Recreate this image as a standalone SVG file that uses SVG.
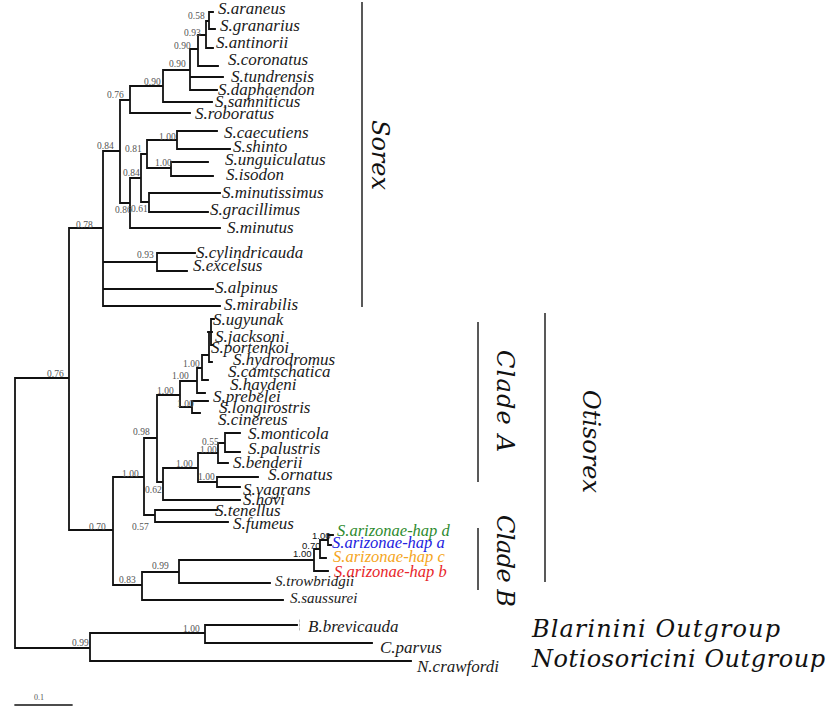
<svg xmlns="http://www.w3.org/2000/svg" width="835" height="707" viewBox="0 0 835 707">
<style>
.br{fill:none;stroke:#111;stroke-width:1.8;stroke-linecap:square}
.sp{font-family:"Liberation Serif","Times New Roman",serif;font-style:italic;font-size:17px;fill:#1a1a1a}
.sm{font-size:15px}
.bs{font-family:"Liberation Serif","Times New Roman",serif;font-size:9.5px;fill:#555}
.bk{font-family:"Liberation Sans",Arial,sans-serif;font-size:9.5px;fill:#111}
.grp{font-family:"DejaVu Serif",serif;font-style:italic;font-size:24px;fill:#111}
.bar{stroke:#222;stroke-width:1.5}
</style>
<rect width="835" height="707" fill="#fff"/>
<g id="connectors" class="br">
<path d="M15 378V648M15 378H69M15 648H90
M69 228V530M69 228H103M69 530H113
M103 151V306M103 151H120M103 262H157M103 289H213M103 306H220
M157 253V271M157 253H195M157 271H187
M120 100V203M120 100H130M120 203H130
M130 86V113M130 86H163M130 113H190
M163 70V102M163 70H190M163 102H212
M190 49V90M190 49H198M190 77H223M190 90H217
M198 35V66M198 35H206M198 66H218
M206 21V48M206 21H209M206 48H213
M209 12V29M209 12H213M209 29H215
M130 178V228M130 178H141M130 228H220
M141 154V202M141 154H147M141 202H149
M147 140V168M147 140H177M147 168H171
M177 131V149M177 131H217M177 149H230
M171 162V176M171 162H208M171 176H213
M149 193V212M149 193H220M149 212H208
M113 477V585M113 477H144M113 585H142
M144 438V515M144 438H157M144 515H155
M155 510V522M155 510H217M155 522H228
M157 395V482M157 395H180M157 482H163
M163 468V500M163 468H198M163 500H240
M198 453V482M198 453H218M198 482H217
M218 443V463M218 443H225M218 463H228
M225 433V452M225 433H240M225 452H240
M217 477V487M217 477H258M217 487H240
M180 381V407M180 381H197M180 407H192
M192 401V413M192 401H208M192 413H200
M197 368V393M197 368H202M197 393H205
M202 355V380M202 355H209M202 380H208
M209 332V362M209 362H212M208 332H212
M211 319V345M211 319H214M211 345H213
M142 572V600M142 572H179M142 600H283
M179 560V583M179 560H314M179 583H270
M314 549V571M314 549H320M314 571H328
M320 540V558M320 540H328M320 558H326
M328 535V545M328 535H333M328 545H331
M90 633V661M90 633H205M90 661H411
M205 625V643M205 625H297M205 643H372"/>
<path d="M299.5 620V630" style="stroke:#bbb;stroke-width:1;stroke-dasharray:2 2"/>
<path d="M15 705H72" style="stroke-width:1.3"/>
</g>
<g id="support-values">
<text class="bs" x="188" y="19">0.58</text>
<text class="bs" x="184" y="36">0.93</text>
<text class="bs" x="174" y="49">0.90</text>
<text class="bs" x="169" y="67">0.90</text>
<text class="bs" x="144" y="85">0.90</text>
<text class="bs" x="107" y="98">0.76</text>
<text class="bs" x="159" y="140">1.00</text>
<text class="bs" x="125" y="152">0.81</text>
<text class="bs" x="155" y="166">1.00</text>
<text class="bs" x="97" y="149">0.84</text>
<text class="bs" x="123" y="176">0.84</text>
<text class="bs" x="115" y="213">0.86</text>
<text class="bs" x="131" y="212">0.61</text>
<text class="bs" x="76" y="228">0.78</text>
<text class="bs" x="137" y="258">0.93</text>
<text class="bs" x="47" y="377">0.76</text>
<text class="bs" x="183" y="367">1.00</text>
<text class="bs" x="172" y="379">1.00</text>
<text class="bs" x="157" y="394">1.00</text>
<text class="bs" x="177" y="407">1.00</text>
<text class="bs" x="133" y="435">0.98</text>
<text class="bs" x="202" y="445">0.55</text>
<text class="bs" x="200" y="453">1.00</text>
<text class="bs" x="176" y="467">1.00</text>
<text class="bs" x="122" y="477">1.00</text>
<text class="bs" x="198" y="480">1.00</text>
<text class="bs" x="145" y="493">0.62</text>
<text class="bs" x="89" y="530">0.70</text>
<text class="bs" x="132" y="530">0.57</text>
<text class="bk" x="312" y="539">1.00</text>
<text class="bk" x="302" y="549">0.70</text>
<text class="bk" x="293" y="557">1.00</text>
<text class="bs" x="152" y="569">0.99</text>
<text class="bs" x="119" y="583">0.83</text>
<text class="bs" x="183" y="632">1.00</text>
<text class="bs" x="72" y="646">0.99</text>
<text class="bs" x="34" y="700" style="font-size:8px">0.1</text>
</g>
<g id="t-araneus"><text class="sp" x="218" y="14">S.araneus</text></g>
<g id="t-granarius"><text class="sp" x="220" y="31">S.granarius</text></g>
<g id="t-antinorii"><text class="sp" x="216" y="48">S.antinorii</text></g>
<g id="t-coronatus"><text class="sp" x="228" y="65">S.coronatus</text></g>
<g id="t-tundrensis"><text class="sp" x="231" y="82">S.tundrensis</text></g>
<g id="t-daphaendon"><text class="sp" x="218" y="95">S.daphaendon</text></g>
<g id="t-samniticus"><text class="sp" x="215" y="107">S.samniticus</text></g>
<g id="t-roboratus"><text class="sp" x="195" y="119">S.roboratus</text></g>
<g id="t-caecutiens"><text class="sp" x="224" y="138">S.caecutiens</text></g>
<g id="t-shinto"><text class="sp" x="233" y="152">S.shinto</text></g>
<g id="t-unguiculatus"><text class="sp" x="225" y="165">S.unguiculatus</text></g>
<g id="t-isodon"><text class="sp" x="226" y="180">S.isodon</text></g>
<g id="t-minutissimus"><text class="sp" x="222" y="198">S.minutissimus</text></g>
<g id="t-gracillimus"><text class="sp" x="210" y="215">S.gracillimus</text></g>
<g id="t-minutus"><text class="sp" x="227" y="233">S.minutus</text></g>
<g id="t-cylindricauda"><text class="sp" x="196" y="258">S.cylindricauda</text></g>
<g id="t-excelsus"><text class="sp" x="193" y="271">S.excelsus</text></g>
<g id="t-alpinus"><text class="sp" x="215" y="293">S.alpinus</text></g>
<g id="t-mirabilis"><text class="sp" x="224" y="310">S.mirabilis</text></g>
<g id="t-ugyunak"><text class="sp" x="213" y="325">S.ugyunak</text></g>
<g id="t-jacksoni"><text class="sp" x="215" y="342">S.jacksoni</text></g>
<g id="t-portenkoi"><text class="sp" x="211" y="353">S.portenkoi</text></g>
<g id="t-hydrodromus"><text class="sp" x="233" y="365">S.hydrodromus</text></g>
<g id="t-camtschatica"><text class="sp" x="228" y="377">S.camtschatica</text></g>
<g id="t-haydeni"><text class="sp" x="230" y="390">S.haydeni</text></g>
<g id="t-prebelei"><text class="sp" x="213" y="402">S.prebelei</text></g>
<g id="t-longirostris"><text class="sp" x="219" y="413">S.longirostris</text></g>
<g id="t-cinereus"><text class="sp" x="218" y="425">S.cinereus</text></g>
<g id="t-monticola"><text class="sp" x="248" y="439">S.monticola</text></g>
<g id="t-palustris"><text class="sp" x="248" y="454">S.palustris</text></g>
<g id="t-benderii"><text class="sp" x="233" y="468">S.benderii</text></g>
<g id="t-ornatus"><text class="sp" x="268" y="480">S.ornatus</text></g>
<g id="t-vagrans"><text class="sp" x="243" y="495">S.vagrans</text></g>
<g id="t-hovi"><text class="sp" x="243" y="505">S.hovi</text></g>
<g id="t-tenellus"><text class="sp" x="215" y="516">S.tenellus</text></g>
<g id="t-fumeus"><text class="sp" x="233" y="529">S.fumeus</text></g>
<g id="t-hap-d"><text class="sp" x="337" y="536" style="fill:#2e8b2e;font-size:16.5px">S.arizonae-hap d</text></g>
<g id="t-hap-a"><text class="sp" x="332" y="548" style="fill:#2323e0;font-size:16.5px">S.arizonae-hap a</text></g>
<g id="t-hap-c"><text class="sp" x="333" y="562" style="fill:#f5a623;font-size:16.5px">S.arizonae-hap c</text></g>
<g id="t-hap-b"><text class="sp" x="334" y="577" style="fill:#e8262a;font-size:16.5px">S.arizonae-hap b</text></g>
<g id="t-trowbridgii"><text class="sp sm" x="275" y="586">S.trowbridgii</text></g>
<g id="t-saussurei"><text class="sp sm" x="290" y="603">S.saussurei</text></g>
<g id="t-brevicauda"><text class="sp" x="308" y="632">B.brevicauda</text></g>
<g id="t-parvus"><text class="sp" x="380" y="653">C.parvus</text></g>
<g id="t-crawfordi"><text class="sp" x="417" y="672">N.crawfordi</text></g>
<g id="group-sorex">
<line class="bar" x1="362" y1="2" x2="362" y2="307"/>
<text class="grp" transform="translate(372,120) rotate(90)" textLength="70">Sorex</text>
</g>
<g id="group-otisorex">
<line class="bar" x1="545" y1="313" x2="545" y2="582"/>
<text class="grp" transform="translate(583,390) rotate(90)" textLength="103">Otisorex</text>
</g>
<g id="group-cladeA">
<line class="bar" x1="478" y1="322" x2="478" y2="482"/>
<text class="grp" transform="translate(497,350) rotate(90)" textLength="102">Clade A</text>
</g>
<g id="group-cladeB">
<line class="bar" x1="478" y1="528" x2="478" y2="590"/>
<text class="grp" transform="translate(497,515) rotate(90)" textLength="92">Clade B</text>
</g>
<g id="group-blarinini"><text class="grp" x="532" y="637" textLength="248">Blarinini  Outgroup</text></g>
<g id="group-notiosoricini"><text class="grp" x="532" y="667" textLength="293">Notiosoricini  Outgroup</text></g>
</svg>
